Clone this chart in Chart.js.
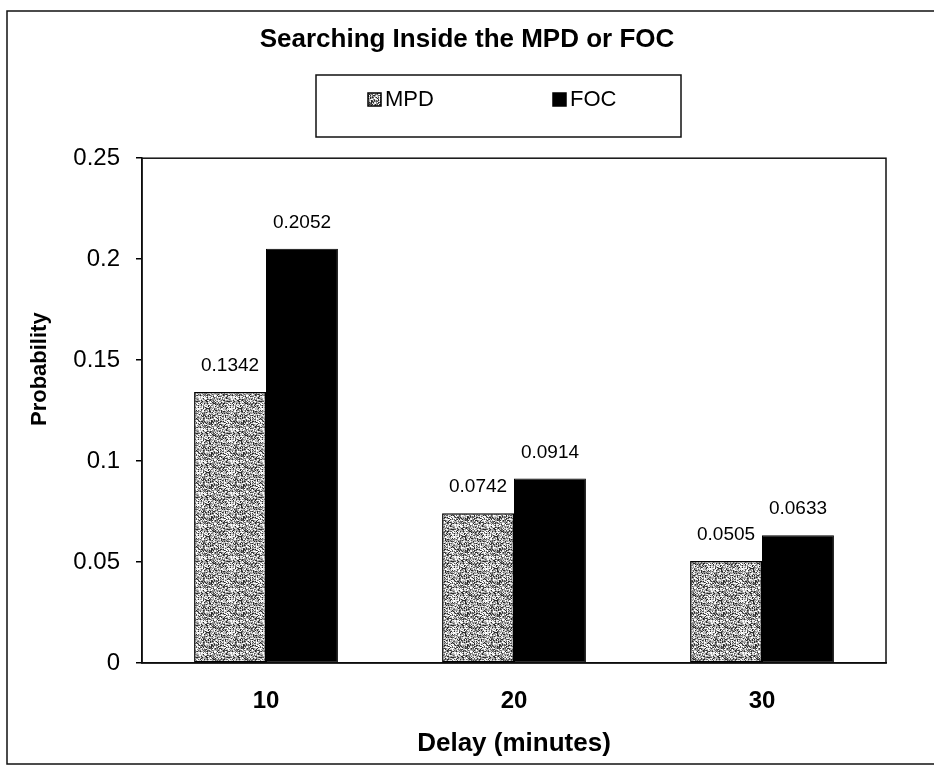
<!DOCTYPE html>
<html>
<head>
<meta charset="utf-8">
<title>Searching Inside the MPD or FOC</title>
<script src="https://cdn.jsdelivr.net/npm/chart.js@4.4.1/dist/chart.umd.min.js"></script>
<style>
  html, body { margin: 0; padding: 0; background: #fff; }
  #wrap { width: 934px; height: 768px; }
</style>
</head>
<body>
<div id="wrap"><canvas id="chart" width="934" height="768"></canvas></div>
<script>
/* ── data ─────────────────────────────────────────────── */
const delays = ["10", "20", "30"];
const seriesNames = ["MPD", "FOC"];
const mpdValues = [0.1342, 0.0742, 0.0505];
const focValues = [0.2052, 0.0914, 0.0633];
const yTicks = [0, 0.05, 0.1, 0.15, 0.2, 0.25];

const FONT = "'Liberation Sans', Arial, Helvetica, sans-serif";
const canvas = document.getElementById("chart");
const ctx2d = canvas.getContext("2d");

// speckled grey fill for the MPD bars (scanned halftone look)
function makeSpeckle() {
    const size = 32;
    const c = document.createElement("canvas");
    c.width = c.height = size;
    const g = c.getContext("2d");
    const shades = [255, 235, 200, 170, 140, 90, 40];
    for (let y = 0; y < size; y++) {
        for (let x = 0; x < size; x++) {
            const s = Math.sin(x * 12.9898 + y * 78.233) * 43758.5453;
            const f = s - Math.floor(s);
            const v = shades[Math.floor(f * shades.length)];
            g.fillStyle = `rgb(${v},${v},${v})`;
            g.fillRect(x, y, 1, 1);
        }
    }
    return ctx2d.createPattern(c, "repeat");
}
const speckle = makeSpeckle();

/* ── extra drawing: frames, legend box, y title, value labels ── */
const decorPlugin = {
    id: "decor",
    beforeDraw(chart) {
        const ctx = chart.ctx;
        ctx.save();
        ctx.fillStyle = "#fff";
        ctx.fillRect(0, 0, chart.width, chart.height);
        ctx.restore();
    },
    afterDatasetsDraw(chart) {
        const ctx = chart.ctx;
        ctx.save();
        ctx.fillStyle = "#000";
        ctx.font = `19px ${FONT}`;
        ctx.textAlign = "center";
        ctx.textBaseline = "middle";
        chart.data.datasets.forEach((ds, i) => {
            chart.getDatasetMeta(i).data.forEach((bar, j) => {
                ctx.fillText(ds.data[j].toString(), bar.x, bar.y - 26);
            });
        });
        ctx.restore();
    },
    afterDraw(chart) {
        const ctx = chart.ctx;
        const a = chart.chartArea;
        ctx.save();
        ctx.strokeStyle = "#111";

        // outer frame
        ctx.lineWidth = 1.5;
        ctx.strokeRect(7, 11, chart.width + 10, chart.height - 15);

        // plot area frame
        ctx.strokeRect(a.left, a.top, a.right - a.left, a.bottom - a.top);

        // legend box
        ctx.strokeRect(316, 75, 365, 62);
        const items = [
            { x: 368, ds: chart.data.datasets[0] },
            { x: 553, ds: chart.data.datasets[1] }
        ];
        ctx.font = `22px ${FONT}`;
        ctx.textBaseline = "middle";
        ctx.textAlign = "left";
        items.forEach(it => {
            ctx.fillStyle = it.ds.backgroundColor;
            ctx.fillRect(it.x, 93, 13, 13);
            ctx.lineWidth = 1.5;
            ctx.strokeStyle = "#000";
            ctx.strokeRect(it.x, 93, 13, 13);
            ctx.fillStyle = "#000";
            ctx.fillText(it.ds.label, it.x + 17, 100);
        });

        // y axis title
        ctx.font = `bold 22px ${FONT}`;
        ctx.textAlign = "center";
        ctx.translate(40, a.top + 211);
        ctx.rotate(-Math.PI / 2);
        ctx.fillText("Probability", 0, 0);
        ctx.restore();
    }
};

new Chart(canvas, {
    type: "bar",
    data: {
        labels: delays,
        datasets: [
            {
                label: seriesNames[0],
                data: mpdValues,
                backgroundColor: speckle,
                borderColor: "#000",
                borderWidth: 1.5,
                borderSkipped: false
            },
            {
                label: seriesNames[1],
                data: focValues,
                backgroundColor: "#000",
                borderColor: "#000",
                borderWidth: 1,
                borderSkipped: false
            }
        ]
    },
    options: {
        responsive: false,
        animation: false,
        devicePixelRatio: 1,
        categoryPercentage: 0.58,
        barPercentage: 1.0,
        layout: { padding: 0 },
        plugins: {
            legend: { display: false },
            tooltip: { enabled: false },
            title: {
                display: true,
                text: "Searching Inside the MPD or FOC",
                color: "#000",
                font: { family: FONT, size: 26, weight: "bold" },
                padding: { top: 24, bottom: 103 }
            }
        },
        scales: {
            x: {
                grid: { display: false, drawTicks: false },
                border: { display: true, color: "#000", width: 1.5 },
                ticks: {
                    color: "#000",
                    padding: 24,
                    font: { family: FONT, size: 24, weight: "bold" }
                },
                title: {
                    display: true,
                    text: "Delay (minutes)",
                    color: "#000",
                    font: { family: FONT, size: 26, weight: "bold" },
                    padding: { top: 0, bottom: 9 }
                },
                afterFit: s => { s.height = 105; }
            },
            y: {
                min: 0,
                max: 0.25,
                afterBuildTicks: s => { s.ticks = yTicks.map(v => ({ value: v })); },
                grid: {
                    drawOnChartArea: false,
                    drawTicks: true,
                    tickLength: 6,
                    color: "#000",
                    lineWidth: 1.5
                },
                border: { display: true, color: "#000", width: 1.5 },
                ticks: {
                    color: "#000",
                    padding: 16,
                    font: { family: FONT, size: 24 },
                    callback: v => String(+v.toFixed(2))
                },
                afterFit: s => { s.width = 142; }
            },
            // empty right-hand axis that only reserves the margin
            yRight: {
                position: "right",
                display: true,
                grid: { display: false },
                border: { display: false },
                ticks: { display: false },
                afterFit: s => { s.width = 48; }
            }
        }
    },
    plugins: [decorPlugin]
});
</script>
</body>
</html>
